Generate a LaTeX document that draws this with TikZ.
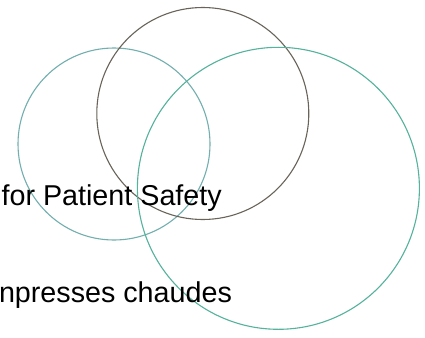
\documentclass[tikz,border=0pt]{standalone}
\usepackage{fontspec}
\setmainfont{Liberation Sans}
\definecolor{leftc}{RGB}{115,175,175}
\definecolor{midc}{RGB}{105,100,90}
\definecolor{rightc}{RGB}{85,178,155}
\begin{document}
\begin{tikzpicture}[x=1pt,y=-1pt,
  ring/.style={line width=1.1pt},
  lbl/.style={inner sep=0pt,anchor=base west,font=\fontsize{28.7}{34}\selectfont,text=black}]
\useasboundingbox (0,0) rectangle (425,337);
\clip (0,0) rectangle (425,337);
\fill[white] (0,0) rectangle (425,337);
\draw[ring,leftc] (114,144) circle[radius=96];
\draw[ring,midc] (202.8,113.5) circle[radius=106];
\draw[ring,rightc] (278.4,188.3) circle[radius=141];
\node[lbl] (t1) at (1.4,205.5) {for Patient Safety};
\node[lbl] (t2) at (-1.2,302) {npresses chaudes};
\end{tikzpicture}
\end{document}
